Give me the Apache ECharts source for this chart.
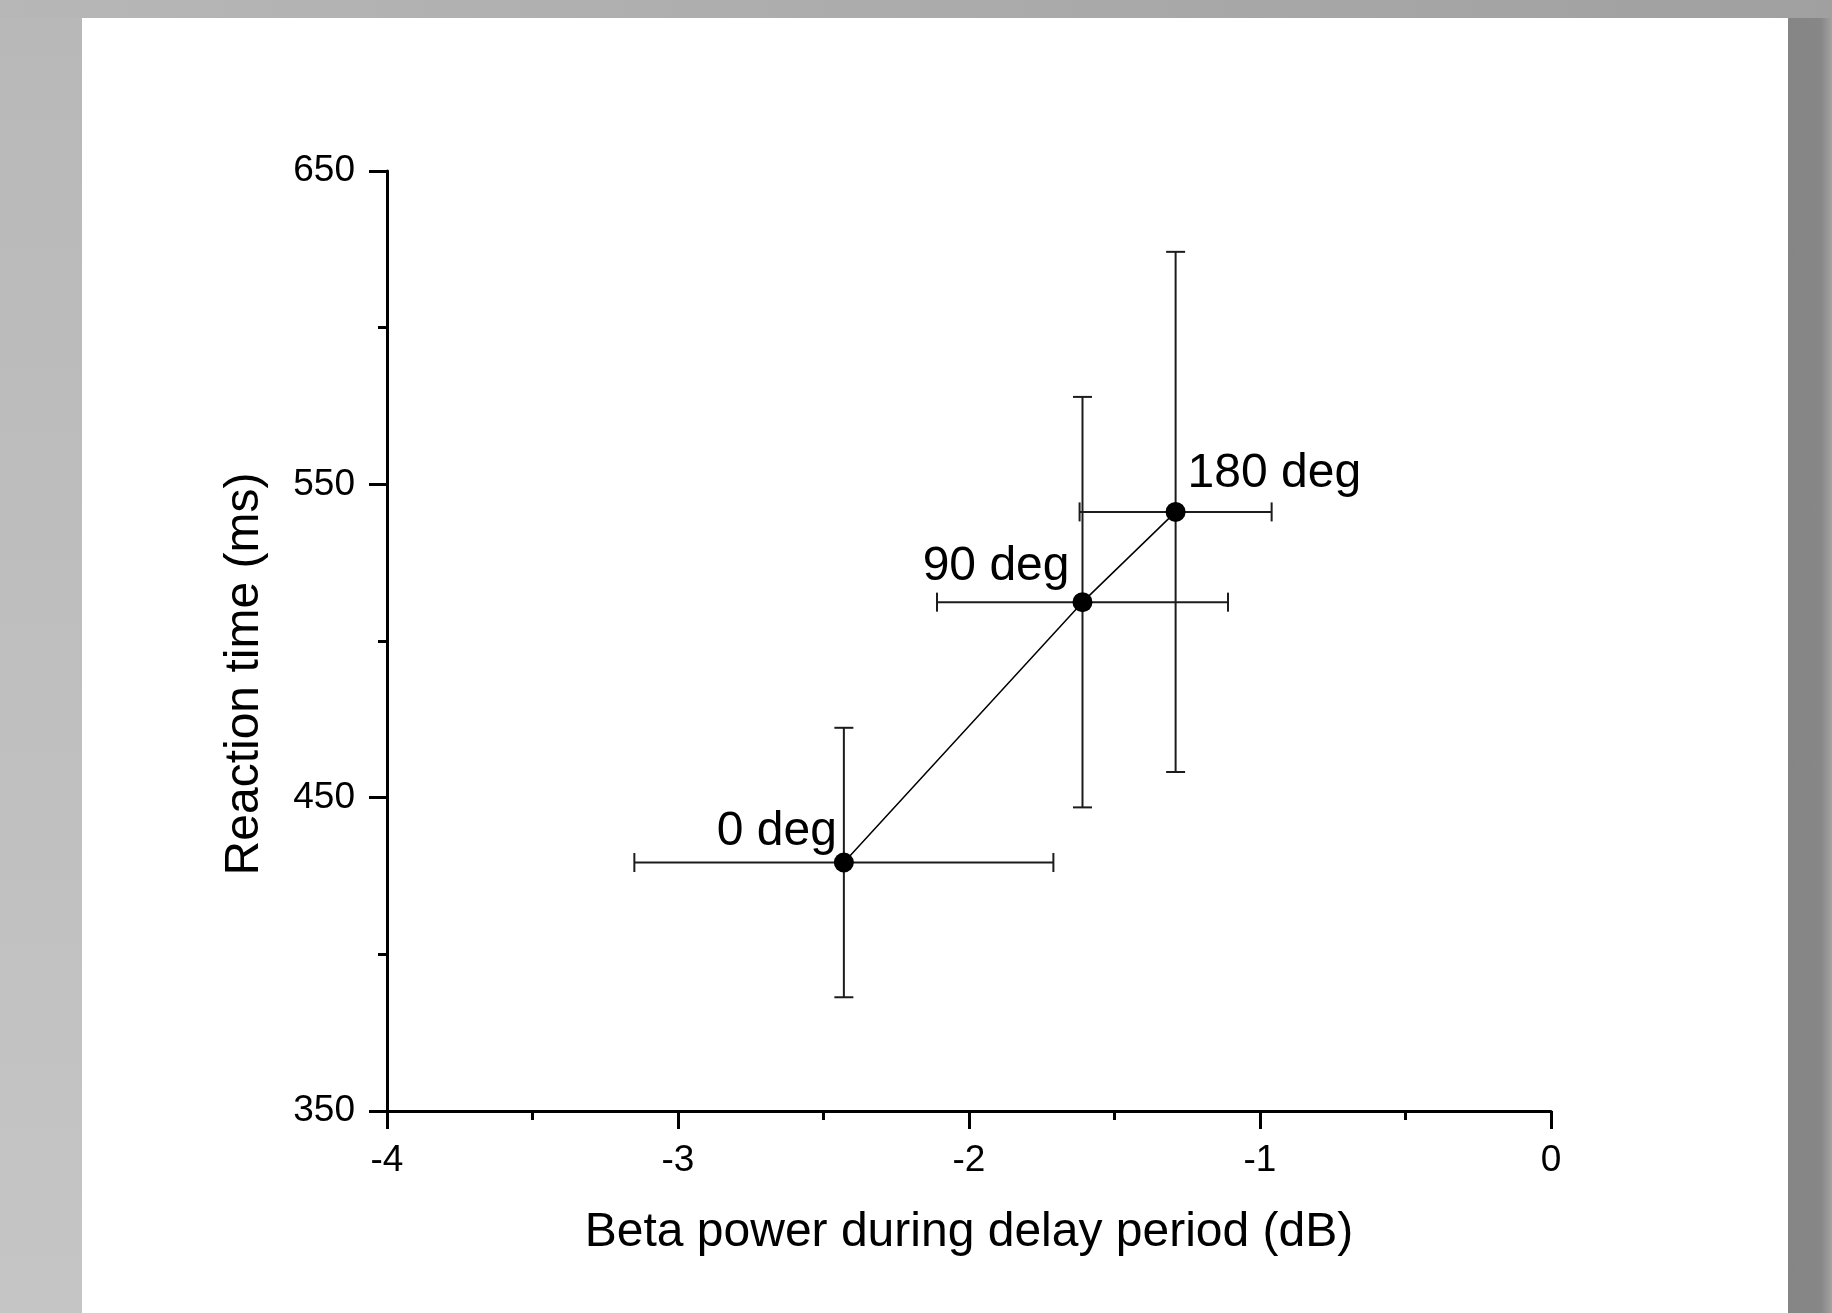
<!DOCTYPE html>
<html>
<head>
<meta charset="utf-8">
<title>Reaction time vs beta power</title>
<script src="https://cdn.jsdelivr.net/npm/echarts@6/dist/echarts.min.js"></script>
<style>
  html, body { margin: 0; padding: 0; }
  body {
    position: relative;
    width: 1832px;
    height: 1313px;
    overflow: hidden;
    background: linear-gradient(to bottom, #b8b8b8, #c5c5c5);
  }
  .top-band { position: absolute; left: 0; top: 0; width: 1832px; height: 18px; background: linear-gradient(to right, #b7b7b7, #a0a0a0); }
  .right-band { position: absolute; left: 1788px; top: 18px; width: 44px; height: 1295px; background: linear-gradient(to right, #858585 0px, #878787 33px, #a2a2a2 44px); }
  .paper { position: absolute; left: 82px; top: 18px; width: 1706px; height: 1295px; background: #fff; }
  #chart { position: absolute; left: 0; top: 0; width: 1832px; height: 1313px; }
</style>
</head>
<body>
<div class="top-band"></div>
<div class="right-band"></div>
<div class="paper"></div>
<div id="chart"></div>
<script>
// phase condition of each point
const labels = ['0 deg', '90 deg', '180 deg'];
// beta power during delay period (dB), mean and error
const betaPower = [-2.43, -1.61, -1.29];
const betaErr = [0.72, 0.50, 0.33];
// reaction time (ms), mean and error
const reactionTime = [429.3, 512.4, 541.2];
const rtErr = [43, 65.5, 83];
// axis ticks
const xTicks = { min: -4, max: 0, interval: 1 };
const yTicks = { min: 350, max: 650, interval: 100 };

const font = 'Arial, "Liberation Sans", sans-serif';
const ink = '#000';

// where each label sits relative to its point
const labelPlace = [
  { position: 'left', distance: -3, offset: [0, -31] },
  { position: 'left', distance: 3, offset: [0, -35] },
  { position: 'right', distance: 2, offset: [0, -38] }
];

const chart = echarts.init(document.getElementById('chart'), null, { renderer: 'canvas' });

function renderErrorBar(params, api) {
  const x = api.value(0), y = api.value(1);
  const dx = api.value(2), dy = api.value(3);
  const top = api.coord([x, y + dy]);
  const bottom = api.coord([x, y - dy]);
  const left = api.coord([x - dx, y]);
  const right = api.coord([x + dx, y]);
  const cap = 9.5;
  const style = { stroke: '#1c1c1c', lineWidth: 2 };
  const seg = (x1, y1, x2, y2) => ({ type: 'line', shape: { x1, y1, x2, y2 }, style });
  return {
    type: 'group',
    children: [
      seg(top[0], top[1], bottom[0], bottom[1]),
      seg(top[0] - cap, top[1], top[0] + cap, top[1]),
      seg(bottom[0] - cap, bottom[1], bottom[0] + cap, bottom[1]),
      seg(left[0], left[1], right[0], right[1]),
      seg(left[0], left[1] - cap, left[0], left[1] + cap),
      seg(right[0], right[1] - cap, right[0], right[1] + cap)
    ]
  };
}

const axisCommon = {
  type: 'value',
  splitLine: { show: false },
  axisLine: { show: true, onZero: false, lineStyle: { color: ink, width: 3 } },
  axisTick: { show: true, length: 18, lineStyle: { color: ink, width: 3 } },
  minorTick: { show: true, splitNumber: 2, length: 9, lineStyle: { color: ink, width: 3 } },
  axisLabel: { color: ink, fontSize: 37, fontFamily: font },
  nameTextStyle: { color: ink, fontSize: 48, fontFamily: font }
};

const option = {
  animation: false,
  backgroundColor: 'transparent',
  grid: { left: 387, right: 281, top: 171, bottom: 202, containLabel: false },
  xAxis: {
    ...axisCommon,
    min: xTicks.min,
    max: xTicks.max,
    interval: xTicks.interval,
    name: 'Beta power during delay period (dB)',
    nameLocation: 'middle',
    nameGap: 98,
    axisLabel: { ...axisCommon.axisLabel, margin: 31 }
  },
  yAxis: {
    ...axisCommon,
    min: yTicks.min,
    max: yTicks.max,
    interval: yTicks.interval,
    name: 'Reaction time (ms)',
    nameLocation: 'middle',
    nameGap: 118,
    nameTextStyle: { ...axisCommon.nameTextStyle, padding: [0, 66, 0, 0] },
    axisLabel: { ...axisCommon.axisLabel, margin: 32 }
  },
  series: [
    {
      type: 'custom',
      name: 'error',
      renderItem: renderErrorBar,
      encode: { x: 0, y: 1 },
      data: betaPower.map((x, i) => [x, reactionTime[i], betaErr[i], rtErr[i]]),
      z: 2,
      silent: true
    },
    {
      type: 'line',
      name: 'mean',
      symbol: 'circle',
      symbolSize: 20,
      itemStyle: { color: ink },
      lineStyle: { color: ink, width: 1.5 },
      z: 3,
      data: betaPower.map((x, i) => ({
        value: [x, reactionTime[i]],
        label: {
          show: true,
          formatter: labels[i],
          color: ink,
          fontSize: 48,
          fontFamily: font,
          ...labelPlace[i]
        }
      }))
    }
  ]
};

chart.setOption(option);
</script>
</body>
</html>
